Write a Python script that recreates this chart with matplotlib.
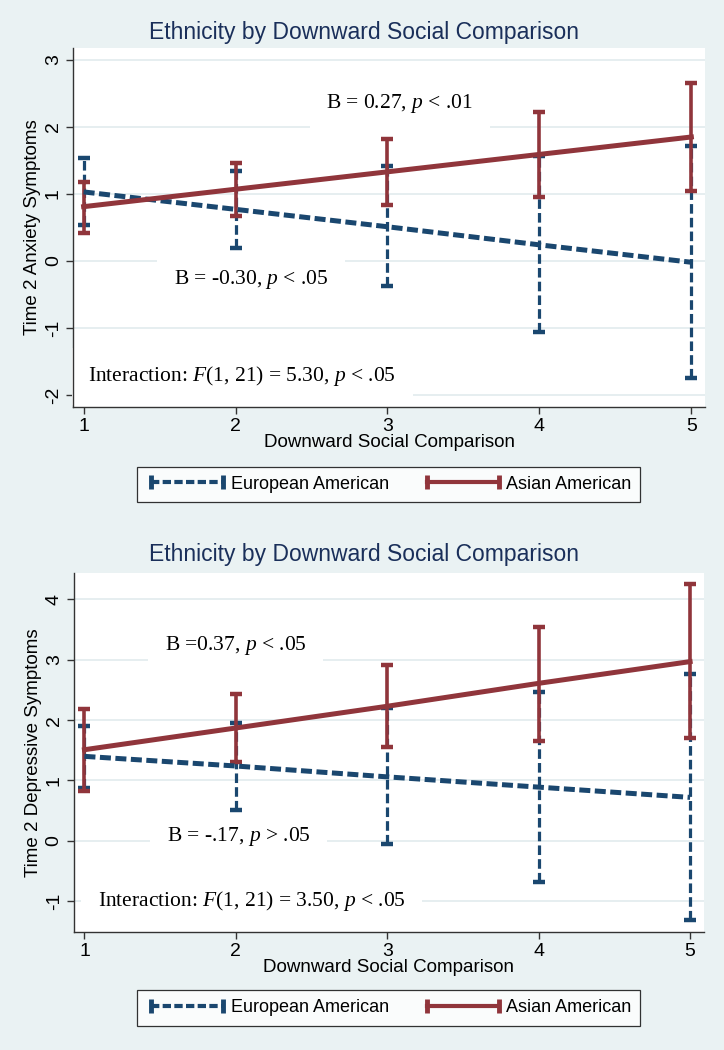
import matplotlib
matplotlib.use("Agg")
import matplotlib.pyplot as plt
from matplotlib.lines import Line2D

plt.rcParams['font.family'] = ['Liberation Sans', 'DejaVu Sans']
plt.rcParams['mathtext.fontset'] = 'custom'
plt.rcParams['mathtext.rm'] = 'Liberation Serif'
plt.rcParams['mathtext.it'] = 'Liberation Serif:italic'

# Downward social comparison levels
x = [1, 2, 3, 4, 5]

# Panel 1: Time 2 anxiety symptoms
anx_euro = [1.03, 0.77, 0.51, 0.24, -0.02]
anx_euro_hi = [1.54, 1.34, 1.41, 1.56, 1.72]
anx_euro_lo = [0.54, 0.19, -0.38, -1.06, -1.75]
anx_asian = [0.81, 1.07, 1.33, 1.59, 1.85]
anx_asian_hi = [1.18, 1.46, 1.82, 2.23, 2.66]
anx_asian_lo = [0.42, 0.67, 0.84, 0.95, 1.04]

# Panel 2: Time 2 depressive symptoms
dep_euro = [1.40, 1.24, 1.06, 0.89, 0.72]
dep_euro_hi = [1.91, 1.96, 2.20, 2.47, 2.77]
dep_euro_lo = [0.87, 0.51, -0.05, -0.68, -1.31]
dep_asian = [1.51, 1.87, 2.23, 2.61, 2.97]
dep_asian_hi = [2.18, 2.43, 2.91, 3.55, 4.25]
dep_asian_lo = [0.83, 1.30, 1.56, 1.66, 1.70]

BLUE = '#1a476f'
RED = '#90353b'
BG = '#eaf2f3'
GRID = '#e1ebee'
TITLE = '#1a2f5a'

fig = plt.figure(figsize=(7.24, 10.5), dpi=100, facecolor=BG)


def draw_panel(ax, euro, e_hi, e_lo, asian, a_hi, a_lo, yticks, ylim, ylabel, notes):
    ax.set_facecolor('white')
    for yt in yticks:
        ax.axhline(yt, color=GRID, lw=1.2, zorder=0.5)
    # European American: dashed
    ax.vlines(x, e_lo, e_hi, colors=BLUE, lw=2.3, linestyles=(0, (3.0, 1.3)), zorder=3)
    ax.plot(x, e_hi, ls='none', marker='_', ms=9, mew=3.2, color=BLUE, zorder=3)
    ax.plot(x, e_lo, ls='none', marker='_', ms=9, mew=3.2, color=BLUE, zorder=3)
    ax.plot(x, euro, color=BLUE, lw=3.6, dashes=(2.2, 0.9), zorder=4)
    # Asian American: solid
    ax.vlines(x, a_lo, a_hi, colors=RED, lw=2.6, zorder=3)
    ax.plot(x, a_hi, ls='none', marker='_', ms=9, mew=3.2, color=RED, zorder=3)
    ax.plot(x, a_lo, ls='none', marker='_', ms=9, mew=3.2, color=RED, zorder=3)
    ax.plot(x, asian, color=RED, lw=3.6, zorder=4)

    for tx, ty, s, ha in notes:
        ax.text(tx, ty, s, ha=ha, va='center', fontsize=15.5, family='Liberation Serif',
                bbox=dict(facecolor='white', edgecolor='none', pad=12), zorder=2)

    ax.set_xlim(0.93, 5.09)
    ax.set_ylim(*ylim)
    ax.set_xticks(x)
    ax.set_yticks(yticks)
    ax.set_yticklabels([str(v) for v in yticks], rotation=90, va='center')
    ax.tick_params(labelsize=14, length=5, width=1, color='#333333', pad=3)
    for side in ('top', 'right'):
        ax.spines[side].set_visible(False)
    for side in ('left', 'bottom'):
        ax.spines[side].set_color('#333333')
        ax.spines[side].set_linewidth(1)
    ax.set_xlabel('Downward Social Comparison', fontsize=13.5, labelpad=-1)
    ax.set_ylabel(ylabel, fontsize=13.5, labelpad=3)


ax1 = fig.add_axes([0.1008, 0.6124, 0.873, 0.342])
draw_panel(ax1, anx_euro, anx_euro_hi, anx_euro_lo, anx_asian, anx_asian_hi, anx_asian_lo,
           [-2, -1, 0, 1, 2, 3], (-2.18, 3.18), 'Time 2 Anxiety Symptoms',
           [(3.08, 2.35, r'B = 0.27, $p$ < .01', 'center'),
            (2.1, -0.28, r'B = -0.30, $p$ < .05', 'center'),
            (1.03, -1.72, r'Interaction: $F$(1, 21) = 5.30, $p$ < .05', 'left')])

ax2 = fig.add_axes([0.102, 0.1124, 0.870, 0.342])
draw_panel(ax2, dep_euro, dep_euro_hi, dep_euro_lo, dep_asian, dep_asian_hi, dep_asian_lo,
           [-1, 0, 1, 2, 3, 4], (-1.51, 4.44), 'Time 2 Depressive Symptoms',
           [(2.0, 3.24, r'B =0.37, $p$ < .05', 'center'),
            (2.02, 0.08, r'B = -.17, $p$ > .05', 'center'),
            (1.09, -1.0, r'Interaction: $F$(1, 21) = 3.50, $p$ < .05', 'left')])

for ty in (1 - 33 / 1050, 1 - 555 / 1050):
    fig.text(0.503, ty, 'Ethnicity by Downward Social Comparison', ha='center', va='center',
             fontsize=16.5, color=TITLE)

handles = [Line2D([0], [0], color=BLUE, lw=3, dashes=(2.0, 0.8), marker='|', ms=10, mew=3.5),
           Line2D([0], [0], color=RED, lw=3, marker='|', ms=10, mew=3.5)]
labels = ['European American', 'Asian American']
for yc in (0.539, 0.040):
    leg = fig.legend(handles, labels, loc='center', bbox_to_anchor=(0.5366, yc), ncol=2,
                     numpoints=2, fontsize=13, frameon=True, fancybox=False, edgecolor='black',
                     handlelength=4.6, handletextpad=0.1, columnspacing=1.8, borderpad=0.5)
    leg.get_frame().set_linewidth(0.9)

fig.savefig('out.png', dpi=100, facecolor=BG)
